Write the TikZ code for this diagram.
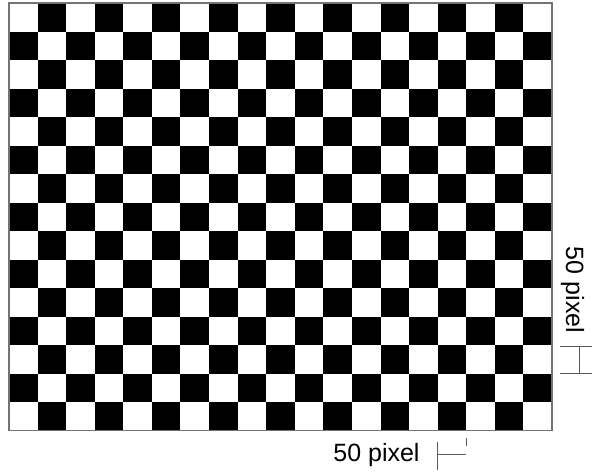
\documentclass[tikz,border=0pt]{standalone}
\usepackage{fontspec}
\setmainfont{Liberation Sans}
\begin{document}
\begin{tikzpicture}[x=1pt,y=-1pt,
  sq/.style={fill=black},
  frame/.style={draw=black!55,line width=1.3pt},
  bar/.style={draw=black!65,line width=1pt},
  lbl/.style={font=\fontsize{25}{30}\selectfont,inner sep=0pt}]
\useasboundingbox (0,0) rectangle (592,472);
\fill[white] (0,0) rectangle (592,472);
\def\sw{28.58}
\def\sh{28.52}
\foreach \i in {0,...,18}{
  \foreach \j in {0,...,14}{
    \pgfmathtruncatemacro\odd{mod(\i+\j,2)}
    \ifnum\odd=1
      \fill[sq] (9+\i*\sw,3+\j*\sh) rectangle ++(\sw,\sh);
    \fi
  }
}
\draw[frame] (9,3) rectangle (552,430.8);
% bottom scale label
\node[lbl,anchor=base] (bl) at (376.5,461) {50 pixel};
\coordinate (b1) at (437,442);
\coordinate (b2) at (437,470);
\coordinate (b3) at (437,454);
\coordinate (b4) at (466,454);
\coordinate (b5) at (466,438);
\coordinate (b6) at (466,446);
\draw[bar] (b1) -- (b2);
\draw[bar] (b3) -- (b4);
\draw[bar] (b5) -- (b6);
% right scale label
\node[lbl,anchor=base,rotate=-90] (rl) at (566,290) {50 pixel};
\coordinate (r1) at (560,346);
\coordinate (r2) at (592,346);
\coordinate (r3) at (560,373);
\coordinate (r4) at (592,373);
\coordinate (r5) at (579,346);
\coordinate (r6) at (579,373);
\draw[bar] (r1) -- (r2);
\draw[bar] (r3) -- (r4);
\draw[bar] (r5) -- (r6);
\end{tikzpicture}
\end{document}
